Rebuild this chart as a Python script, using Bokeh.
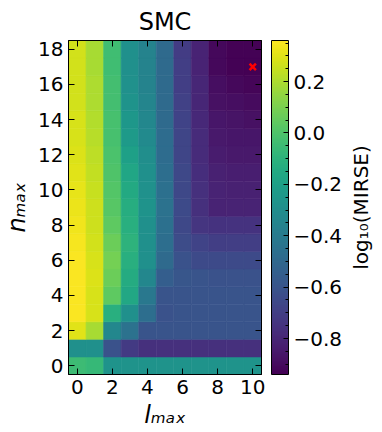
import numpy as np
from bokeh.plotting import figure
from bokeh.layouts import row
from bokeh.models import (LinearColorMapper, ColorBar, FixedTicker, LinearAxis,
                          CustomJSTickFormatter, ColumnDataSource)
from bokeh.transform import transform
from bokeh.palettes import Viridis256
from bokeh.embed import file_html
from bokeh.resources import INLINE

# ---- data ----
l_max = list(range(11))          # x categories
n_max = list(range(19))          # y categories
# log10(MIRSE), one row per n_max (0..18), columns l_max 0..10
log_mirse = [
    [-0.05, -0.07, -0.27, -0.27, -0.27, -0.27, -0.27, -0.27, -0.27, -0.27, -0.27],  # 0
    [-0.29, -0.29, -0.61, -0.72, -0.76, -0.76, -0.76, -0.76, -0.76, -0.76, -0.76],  # 1
    [0.30, 0.19, -0.34, -0.45, -0.60, -0.60, -0.60, -0.60, -0.60, -0.60, -0.60],    # 2
    [0.35, 0.28, -0.12, -0.29, -0.47, -0.61, -0.60, -0.60, -0.60, -0.60, -0.60],    # 3
    [0.35, 0.28, 0.04, -0.16, -0.42, -0.60, -0.60, -0.60, -0.60, -0.60, -0.60],     # 4
    [0.35, 0.29, 0.07, -0.14, -0.34, -0.55, -0.59, -0.60, -0.61, -0.61, -0.61],     # 5
    [0.35, 0.28, 0.09, -0.12, -0.29, -0.49, -0.61, -0.65, -0.65, -0.65, -0.65],     # 6
    [0.34, 0.27, 0.07, -0.10, -0.29, -0.47, -0.64, -0.68, -0.70, -0.70, -0.70],     # 7
    [0.33, 0.26, 0.04, -0.12, -0.29, -0.46, -0.66, -0.74, -0.75, -0.75, -0.75],     # 8
    [0.32, 0.26, 0.02, -0.13, -0.27, -0.45, -0.65, -0.76, -0.81, -0.81, -0.81],     # 9
    [0.31, 0.25, 0.01, -0.15, -0.28, -0.46, -0.66, -0.76, -0.81, -0.82, -0.82],     # 10
    [0.30, 0.24, 0.00, -0.17, -0.29, -0.47, -0.66, -0.77, -0.82, -0.83, -0.83],     # 11
    [0.29, 0.23, -0.01, -0.20, -0.30, -0.48, -0.67, -0.78, -0.84, -0.85, -0.85],    # 12
    [0.28, 0.22, -0.02, -0.23, -0.32, -0.48, -0.67, -0.78, -0.85, -0.86, -0.86],    # 13
    [0.28, 0.21, -0.02, -0.25, -0.34, -0.49, -0.68, -0.79, -0.86, -0.87, -0.88],    # 14
    [0.27, 0.20, -0.03, -0.27, -0.35, -0.49, -0.69, -0.80, -0.88, -0.89, -0.90],    # 15
    [0.27, 0.20, -0.03, -0.28, -0.36, -0.49, -0.70, -0.80, -0.89, -0.91, -0.92],    # 16
    [0.27, 0.19, -0.04, -0.29, -0.36, -0.49, -0.70, -0.81, -0.91, -0.93, -0.94],    # 17
    [0.27, 0.19, -0.04, -0.29, -0.36, -0.49, -0.71, -0.81, -0.91, -0.93, -0.93],    # 18
]
best_l = [10]
best_n = [17]
x_ticks = [0, 2, 4, 6, 8, 10]
y_ticks = [0, 2, 4, 6, 8, 10, 12, 14, 16, 18]
cbar_ticks = [-0.8, -0.6, -0.4, -0.2, 0.0, 0.2]
cbar_minor = [-0.9, -0.85, -0.75, -0.7, -0.65, -0.55, -0.5, -0.45, -0.35, -0.3, -0.25,
              -0.15, -0.1, -0.05, 0.05, 0.1, 0.15, 0.25, 0.3, 0.35]
vmin, vmax = -0.94, 0.36

# ---- build ----
xs, ys, vs = [], [], []
for j, n in enumerate(n_max):
    for i, l in enumerate(l_max):
        xs.append(l); ys.append(n); vs.append(log_mirse[j][i])
src = ColumnDataSource(dict(x=xs, y=ys, v=vs))

mapper = LinearColorMapper(palette=Viridis256, low=vmin, high=vmax)
FONT = "DejaVu Sans"

p = figure(frame_width=193, frame_height=334, x_range=(-0.5, 10.5), y_range=(-0.5, 18.5),
           output_backend="svg", toolbar_location=None, title="SMC",
           min_border_left=10, min_border_right=5, min_border_top=5, min_border_bottom=5)
p.rect(x="x", y="y", width=1, height=1, source=src,
       fill_color=transform("v", mapper), line_color=transform("v", mapper), line_width=0.6)
p.scatter(x=best_l, y=best_n, marker="x", size=9, line_color="red", line_width=2.5)

p.grid.visible = False
p.outline_line_color = "black"
p.title.text_font = FONT
p.title.text_font_size = "24px"
p.title.text_font_style = "normal"
p.title.text_color = "black"
p.title.align = "center"

def style_axis(ax, ticks, labels=True, standoff=5):
    ax.ticker = FixedTicker(ticks=ticks)
    ax.major_tick_in = 6
    ax.major_tick_out = 0
    ax.minor_tick_in = 0
    ax.minor_tick_out = 0
    ax.major_tick_line_color = "black"
    ax.axis_line_color = "black"
    ax.major_label_text_font = FONT
    ax.major_label_standoff = standoff
    if labels:
        ax.major_label_text_color = "black"
        ax.major_label_text_font_size = "20px"
    else:
        ax.major_label_text_color = None
        ax.major_label_text_font_size = "0px"

style_axis(p.xaxis[0], x_ticks)
style_axis(p.yaxis[0], y_ticks)
p.xaxis.axis_label = "lₘₐₓ"
p.yaxis.axis_label = "nₘₐₓ"
for ax in (p.xaxis[0], p.yaxis[0]):
    ax.axis_label_text_font = FONT
    ax.axis_label_text_font_size = "24px"
    ax.axis_label_text_font_style = "italic"
    ax.axis_label_text_color = "black"
    ax.axis_label_standoff = 4

top = LinearAxis()
style_axis(top, x_ticks, labels=False, standoff=0)
p.add_layout(top, "above")
right = LinearAxis()
style_axis(right, y_ticks, labels=False, standoff=0)
p.add_layout(right, "right")

# empty spacer axis (label not painted): gap between the frame and the colour bar
spacer = LinearAxis(ticker=FixedTicker(ticks=[]), axis_line_color=None,
                    major_tick_in=0, major_tick_out=0, minor_tick_in=0, minor_tick_out=0,
                    major_label_text_font_size="0px", major_label_text_color=None,
                    major_label_standoff=0,
                    axis_label="|", axis_label_text_color=None,
                    axis_label_text_font_size="7px", axis_label_standoff=0)
p.add_layout(spacer, "right")

cb = ColorBar(color_mapper=mapper, width=17, height=334,
              ticker=FixedTicker(ticks=cbar_ticks, minor_ticks=cbar_minor),
              formatter=CustomJSTickFormatter(code="return (tick < -1e-9 ? '\u2212' : '') + Math.abs(tick).toFixed(1);"),
              major_tick_in=5, major_tick_out=0, minor_tick_in=3, minor_tick_out=0,
              major_tick_line_color="black", minor_tick_line_color="black",
              bar_line_color="black", label_standoff=5,
              major_label_text_font=FONT, major_label_text_font_size="20px",
              major_label_text_color="black",
              background_fill_color=None, border_line_color=None,
              padding=0, margin=0)
p.add_layout(cb, "right")

# narrow companion figure carrying the colour-bar label (reads bottom to top)
p2 = figure(frame_width=1, frame_height=334, x_range=(0, 1), y_range=(0, 1),
            output_backend="svg", toolbar_location=None,
            min_border_left=0, min_border_right=0, min_border_top=3, min_border_bottom=0,
            outline_line_color=None)
p2.xaxis.visible = False
p2.grid.visible = False
ya = p2.yaxis[0]
ya.ticker = FixedTicker(ticks=[])
ya.axis_line_color = None
ya.major_tick_out = 0
ya.major_tick_in = 0
ya.minor_tick_out = 0
ya.minor_tick_in = 0
ya.major_label_text_font_size = "0px"
ya.major_label_text_color = None
ya.major_label_standoff = 0
ya.axis_label = "log₁₀(MIRSE)"
ya.axis_label_text_font = FONT
ya.axis_label_text_font_size = "20px"
ya.axis_label_text_font_style = "normal"
ya.axis_label_text_color = "black"
ya.axis_label_standoff = 0

layout = row(p, p2, spacing=0)
open("out.html", "w").write(file_html(layout, INLINE))
